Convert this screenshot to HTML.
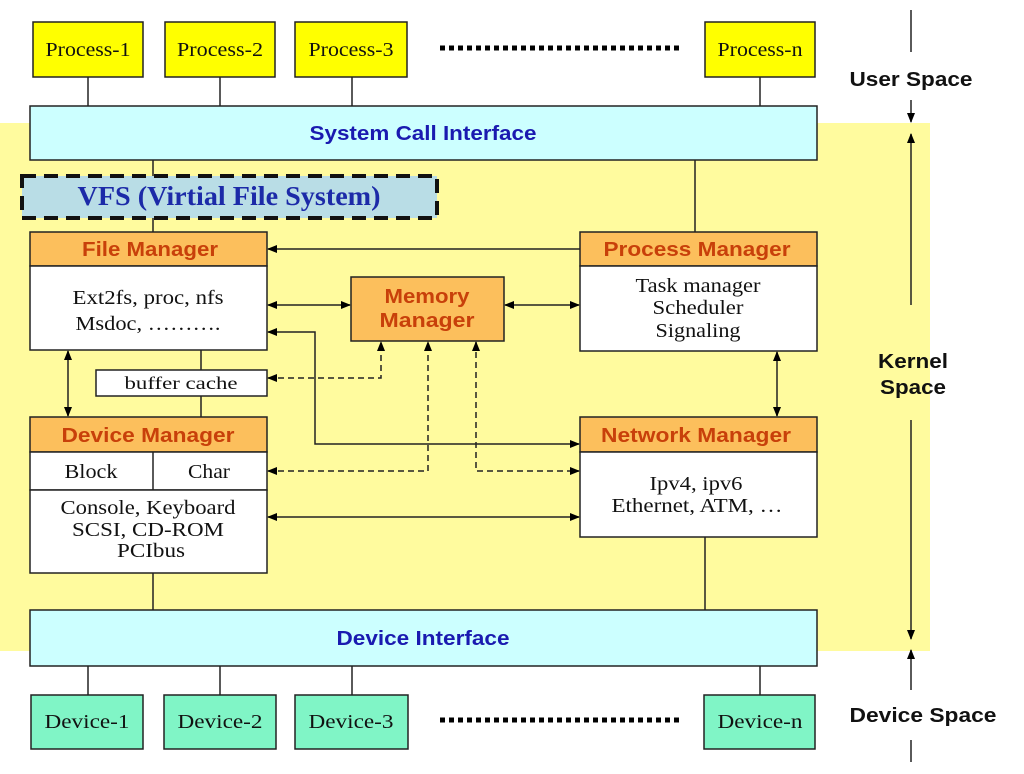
<!DOCTYPE html>
<html><head><meta charset="utf-8"><style>html,body{margin:0;padding:0;background:#fff}svg{display:block}</style></head><body>
<svg width="1024" height="774" viewBox="0 0 1024 774" xmlns="http://www.w3.org/2000/svg">
<defs>
<marker id="a" markerWidth="10" markerHeight="8" refX="9" refY="4" orient="auto" markerUnits="userSpaceOnUse"><path d="M0,0 L10,4 L0,8 z" fill="#000"/></marker>
<marker id="s" markerWidth="10" markerHeight="8" refX="1" refY="4" orient="auto" markerUnits="userSpaceOnUse"><path d="M10,0 L0,4 L10,8 z" fill="#000"/></marker>
</defs>
<rect x="0" y="123" width="930" height="528" fill="#fffb9e"/>
<g stroke="#222" stroke-width="1.5" fill="none">
<line x1="88" y1="77" x2="88" y2="106"/><line x1="220" y1="77" x2="220" y2="106"/><line x1="352" y1="77" x2="352" y2="106"/><line x1="760" y1="77" x2="760" y2="106"/>
<line x1="88" y1="666" x2="88" y2="695"/><line x1="220" y1="666" x2="220" y2="695"/><line x1="352" y1="666" x2="352" y2="695"/><line x1="760" y1="666" x2="760" y2="695"/>
<line x1="153" y1="160" x2="153" y2="176"/><line x1="153" y1="218" x2="153" y2="232"/>
<line x1="695" y1="160" x2="695" y2="232"/>
<line x1="201" y1="350" x2="201" y2="370"/><line x1="201" y1="396" x2="201" y2="417"/>
<line x1="153" y1="573" x2="153" y2="610"/><line x1="705" y1="537" x2="705" y2="610"/>
<line x1="580" y1="249" x2="268" y2="249" marker-end="url(#a)"/>
<line x1="268" y1="305" x2="350" y2="305" marker-start="url(#s)" marker-end="url(#a)"/>
<line x1="505" y1="305" x2="579" y2="305" marker-start="url(#s)" marker-end="url(#a)"/>
<polyline points="268,332 315,332 315,444 579,444" marker-start="url(#s)" marker-end="url(#a)"/>
<line x1="68" y1="351" x2="68" y2="416" marker-start="url(#s)" marker-end="url(#a)"/>
<line x1="777" y1="352" x2="777" y2="416" marker-start="url(#s)" marker-end="url(#a)"/>
<line x1="268" y1="517" x2="579" y2="517" marker-start="url(#s)" marker-end="url(#a)"/>
<g stroke-dasharray="6,4">
<polyline points="268,378 381,378 381,342" marker-start="url(#s)" marker-end="url(#a)"/>
<polyline points="268,471 428,471 428,342" marker-start="url(#s)" marker-end="url(#a)"/>
<polyline points="476,342 476,471 579,471" marker-start="url(#s)" marker-end="url(#a)"/>
</g>
<line x1="911" y1="10" x2="911" y2="52"/>
<line x1="911" y1="100" x2="911" y2="122" marker-end="url(#a)"/>
<line x1="911" y1="134" x2="911" y2="305" marker-start="url(#s)"/>
<line x1="911" y1="420" x2="911" y2="639" marker-end="url(#a)"/>
<line x1="911" y1="650" x2="911" y2="690" marker-start="url(#s)"/>
<line x1="911" y1="740" x2="911" y2="762"/>
</g>
<g stroke="#222" stroke-width="1.5">
<rect x="33" y="22" width="110" height="55" fill="#ffff00"/><rect x="165" y="22" width="110" height="55" fill="#ffff00"/><rect x="295" y="22" width="112" height="55" fill="#ffff00"/><rect x="705" y="22" width="110" height="55" fill="#ffff00"/>
<rect x="30" y="106" width="787" height="54" fill="#ccffff"/>
<rect x="30" y="610" width="787" height="56" fill="#ccffff"/>
<rect x="31" y="695" width="112" height="54" fill="#80f5c6"/><rect x="164" y="695" width="112" height="54" fill="#80f5c6"/><rect x="295" y="695" width="113" height="54" fill="#80f5c6"/><rect x="704" y="695" width="111" height="54" fill="#80f5c6"/>
<rect x="30" y="232" width="237" height="34" fill="#fcbf5c"/><rect x="30" y="266" width="237" height="84" fill="#fff"/>
<rect x="580" y="232" width="237" height="34" fill="#fcbf5c"/><rect x="580" y="266" width="237" height="85" fill="#fff"/>
<rect x="351" y="277" width="153" height="64" fill="#fcbf5c"/>
<rect x="96" y="370" width="171" height="26" fill="#fff"/>
<rect x="30" y="417" width="237" height="35" fill="#fcbf5c"/><rect x="30" y="452" width="237" height="38" fill="#fff"/><rect x="30" y="490" width="237" height="83" fill="#fff"/>
<line x1="153" y1="452" x2="153" y2="490"/>
<rect x="580" y="417" width="237" height="35" fill="#fcbf5c"/><rect x="580" y="452" width="237" height="85" fill="#fff"/>
</g>
<rect x="22" y="176" width="415" height="42" fill="#b9dde6" stroke="#111" stroke-width="4" stroke-dasharray="14,8"/>
<line x1="440" y1="48" x2="680" y2="48" stroke="#000" stroke-width="5" stroke-dasharray="5,4"/>
<line x1="440" y1="720" x2="680" y2="720" stroke="#000" stroke-width="5" stroke-dasharray="5,4"/>
<g font-family="Liberation Serif, serif" font-size="20" fill="#111" text-anchor="middle" lengthAdjust="spacingAndGlyphs">
<text x="88" y="56" textLength="85" lengthAdjust="spacingAndGlyphs">Process-1</text><text x="220" y="56" textLength="86" lengthAdjust="spacingAndGlyphs">Process-2</text><text x="351" y="56" textLength="85" lengthAdjust="spacingAndGlyphs">Process-3</text><text x="760" y="56" textLength="85" lengthAdjust="spacingAndGlyphs">Process-n</text>
<text x="87" y="728" textLength="85" lengthAdjust="spacingAndGlyphs">Device-1</text><text x="220" y="728" textLength="85" lengthAdjust="spacingAndGlyphs">Device-2</text><text x="351" y="728" textLength="85" lengthAdjust="spacingAndGlyphs">Device-3</text><text x="760" y="728" textLength="85" lengthAdjust="spacingAndGlyphs">Device-n</text>
<text x="148" y="304" textLength="151" lengthAdjust="spacingAndGlyphs">Ext2fs, proc, nfs</text><text x="148" y="330" textLength="145" lengthAdjust="spacingAndGlyphs">Msdoc, ……….</text>
<text x="698" y="292" textLength="125" lengthAdjust="spacingAndGlyphs">Task manager</text><text x="698" y="314" textLength="91" lengthAdjust="spacingAndGlyphs">Scheduler</text><text x="698" y="337" textLength="85" lengthAdjust="spacingAndGlyphs">Signaling</text>
<text x="181" y="389" font-size="18" textLength="113" lengthAdjust="spacingAndGlyphs">buffer cache</text>
<text x="91" y="478" textLength="53" lengthAdjust="spacingAndGlyphs">Block</text><text x="209" y="478" textLength="42" lengthAdjust="spacingAndGlyphs">Char</text>
<text x="148" y="514" textLength="175" lengthAdjust="spacingAndGlyphs">Console, Keyboard</text><text x="148" y="536" textLength="152" lengthAdjust="spacingAndGlyphs">SCSI, CD-ROM</text><text x="151" y="557" textLength="68" lengthAdjust="spacingAndGlyphs">PCIbus</text>
<text x="696" y="490" textLength="93" lengthAdjust="spacingAndGlyphs">Ipv4, ipv6</text><text x="697" y="512" textLength="171" lengthAdjust="spacingAndGlyphs">Ethernet, ATM, …</text>
</g>
<text x="229" y="205" font-family="Liberation Serif, serif" font-weight="bold" font-size="27" fill="#1c2aa8" text-anchor="middle" textLength="303" lengthAdjust="spacingAndGlyphs">VFS (Virtial File System)</text>
<g font-family="Liberation Sans, sans-serif" font-weight="bold" text-anchor="middle">
<text x="423" y="140" font-size="20" fill="#1a1ab0" textLength="227" lengthAdjust="spacingAndGlyphs">System Call Interface</text>
<text x="423" y="645" font-size="20" fill="#1a1ab0" textLength="173" lengthAdjust="spacingAndGlyphs">Device Interface</text>
<g font-size="20" fill="#c8400a">
<text x="150" y="256" textLength="136" lengthAdjust="spacingAndGlyphs">File Manager</text><text x="697" y="256" textLength="187" lengthAdjust="spacingAndGlyphs">Process Manager</text>
<text x="427" y="303" textLength="85" lengthAdjust="spacingAndGlyphs">Memory</text><text x="427" y="327" textLength="95" lengthAdjust="spacingAndGlyphs">Manager</text>
<text x="148" y="442" textLength="173" lengthAdjust="spacingAndGlyphs">Device Manager</text><text x="696" y="442" textLength="190" lengthAdjust="spacingAndGlyphs">Network Manager</text>
</g>
<g font-size="20" fill="#111">
<text x="911" y="86" textLength="123" lengthAdjust="spacingAndGlyphs">User Space</text><text x="913" y="368" textLength="70" lengthAdjust="spacingAndGlyphs">Kernel</text><text x="913" y="394" textLength="66" lengthAdjust="spacingAndGlyphs">Space</text><text x="923" y="722" textLength="147" lengthAdjust="spacingAndGlyphs">Device Space</text>
</g>
</g>
</svg>
</body></html>
